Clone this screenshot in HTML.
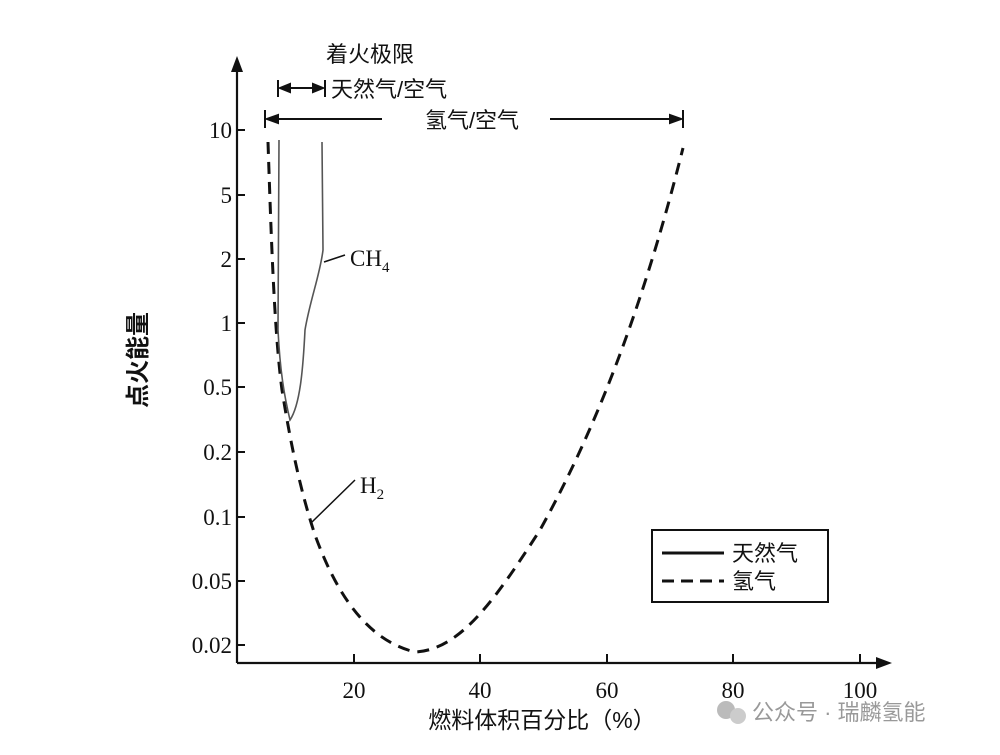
<!DOCTYPE html>
<html><head><meta charset="utf-8"><style>
body{margin:0;background:#fff}
svg text{font-family:"Liberation Serif","Noto Serif CJK SC",serif;fill:#111}
.c{font-family:"Liberation Sans","Noto Sans CJK SC",sans-serif}
</style></head><body>
<svg width="1000" height="750" viewBox="0 0 1000 750" xmlns="http://www.w3.org/2000/svg">
<g stroke="#111" stroke-width="2.2" fill="none">
<line x1="237" y1="663" x2="237" y2="68"/>
<line x1="237" y1="663" x2="880" y2="663"/>
</g>
<polygon points="237,56 231,72 243,72" fill="#111"/>
<polygon points="892,663 876,657 876,669" fill="#111"/>
<g stroke="#111" stroke-width="2">
<line x1="237" y1="130" x2="245" y2="130"/><line x1="237" y1="195" x2="245" y2="195"/>
<line x1="237" y1="259" x2="245" y2="259"/><line x1="237" y1="323" x2="245" y2="323"/>
<line x1="237" y1="387" x2="245" y2="387"/><line x1="237" y1="452" x2="245" y2="452"/>
<line x1="237" y1="517" x2="245" y2="517"/><line x1="237" y1="581" x2="245" y2="581"/>
<line x1="237" y1="645" x2="245" y2="645"/>
<line x1="354" y1="663" x2="354" y2="654"/><line x1="480" y1="663" x2="480" y2="654"/>
<line x1="607" y1="663" x2="607" y2="654"/><line x1="733" y1="663" x2="733" y2="654"/>
<line x1="860" y1="663" x2="860" y2="654"/>
</g>
<g font-size="23" text-anchor="end">
<text x="232" y="138">10</text><text x="232" y="203">5</text><text x="232" y="267">2</text>
<text x="232" y="331">1</text><text x="232" y="395">0.5</text><text x="232" y="460">0.2</text>
<text x="232" y="525">0.1</text><text x="232" y="589">0.05</text><text x="232" y="653">0.02</text>
</g>
<g font-size="23" text-anchor="middle">
<text x="354" y="698">20</text><text x="480" y="698">40</text><text x="607" y="698">60</text>
<text x="733" y="698">80</text><text x="860" y="698">100</text>
</g>
<text class="c" x="542" y="728" font-size="23" text-anchor="middle">燃料体积百分比（%）</text>
<text class="c" x="0" y="0" font-size="24" font-weight="bold" text-anchor="middle" transform="translate(146,360) rotate(-90)">点火能量</text>
<text class="c" x="370" y="62" font-size="22" text-anchor="middle">着火极限</text>
<text class="c" x="331" y="97" font-size="22">天然气/空气</text>
<text class="c" x="472" y="128" font-size="22" text-anchor="middle">氢气/空气</text>
<g stroke="#111" stroke-width="2" fill="#111">
<line x1="278" y1="80" x2="278" y2="97"/><line x1="325" y1="80" x2="325" y2="97"/>
<line x1="281" y1="88" x2="322" y2="88"/>
<polygon points="280,88 290,84 290,92"/><polygon points="323,88 313,84 313,92"/>
<line x1="265" y1="110" x2="265" y2="128"/><line x1="683" y1="110" x2="683" y2="128"/>
<line x1="267" y1="119" x2="382" y2="119"/><line x1="550" y1="119" x2="681" y2="119"/>
<polygon points="267,119 278,115 278,123"/><polygon points="681,119 670,115 670,123"/>
</g>
<path d="M268,142 C271,230 274,330 282,390 C290,440 300,490 315,535 C335,590 365,640 415,652 C460,650 495,600 540,530 C590,440 640,320 683,148" stroke="#111" stroke-width="3" fill="none" stroke-dasharray="12,8"/>
<path d="M279,140 L278,330 C280,370 284,395 290,420 C300,405 303,370 305,330 C310,300 320,275 323,250 L322,142" stroke="#555" stroke-width="1.6" fill="none"/>
<line x1="324" y1="262" x2="345" y2="255" stroke="#111" stroke-width="1.5"/>
<text x="350" y="266" font-size="23">CH<tspan font-size="15" dy="6">4</tspan></text>
<line x1="312" y1="522" x2="355" y2="480" stroke="#111" stroke-width="1.5"/>
<text x="360" y="493" font-size="23">H<tspan font-size="15" dy="6">2</tspan></text>
<rect x="652" y="530" width="176" height="72" fill="none" stroke="#111" stroke-width="2"/>
<line x1="662" y1="553" x2="724" y2="553" stroke="#111" stroke-width="3"/>
<line x1="662" y1="581" x2="724" y2="581" stroke="#111" stroke-width="3" stroke-dasharray="12,7"/>
<text class="c" x="732" y="561" font-size="22">天然气</text>
<text class="c" x="732" y="589" font-size="22">氢气</text>
<circle cx="726" cy="710" r="9" fill="#bbb"/><circle cx="738" cy="716" r="8" fill="#ccc"/>
<text class="c" x="752" y="720" font-size="22" style="fill:#999">公众号 · 瑞麟氢能</text>
</svg>
</body></html>
